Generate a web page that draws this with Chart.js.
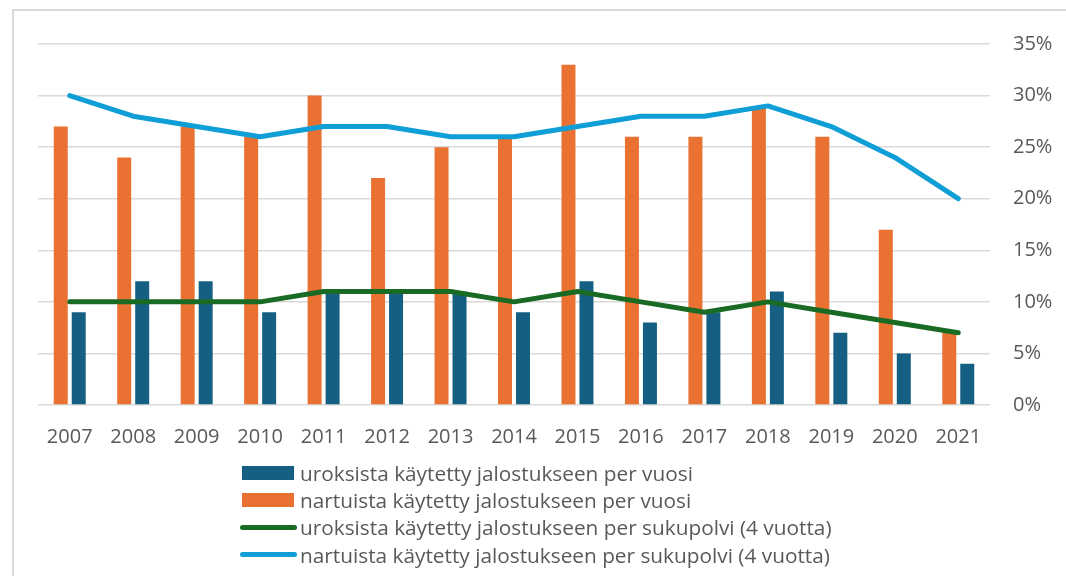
<!DOCTYPE html>
<html lang="fi">
<head>
<meta charset="utf-8">
<title>Jalostukseen käytetyt</title>
<script src="https://cdn.jsdelivr.net/npm/chart.js@4"></script>
<style>
    html, body { margin: 0; padding: 0; background: #ffffff; }
    body { width: 1066px; height: 576px; position: relative; overflow: hidden; font-family: 'Open Sans', sans-serif; }
    .frame { position: absolute; left: 12px; top: 9px; width: 1100px; height: 600px;
             border-top: 2px solid #d9d9d9; border-left: 2px solid #d9d9d9; }
    .chart-box { position: absolute; left: 0; top: 0; width: 1066px; height: 576px; }
    .legend { position: absolute; left: 240px; top: 459px; color: #595959; font-size: 20.8px; }
    .legend-item { height: 27.3px; display: flex; align-items: center; white-space: nowrap; }
    .legend-box { width: 52px; height: 14px; margin-left: 2px; margin-right: 6px; }
    .legend-line { width: 57px; height: 5px; border-radius: 3px; margin-right: 3px; }
</style>
</head>
<body>
<div class="frame"></div>
<div class="chart-box"><canvas id="chart"></canvas></div>
<div class="legend" id="legend"></div>
<script>
// Colours (Office theme)
const COLORS = {
    blue: '#156082',
    orange: '#E97132',
    green: '#196B24',
    cyan: '#0F9ED5',
    grid: '#d9d9d9',
    text: '#595959'
};

// Data
const years = ['2007', '2008', '2009', '2010', '2011', '2012', '2013', '2014',
               '2015', '2016', '2017', '2018', '2019', '2020', '2021'];
const malesPerYear     = [9, 12, 12, 9, 11, 11, 11, 9, 12, 8, 9, 11, 7, 5, 4];
const femalesPerYear   = [27, 24, 27, 26, 30, 22, 25, 26, 33, 26, 26, 29, 26, 17, 7];
const malesPerGen      = [10, 10, 10, 10, 11, 11, 11, 10, 11, 10, 9, 10, 9, 8, 7];
const femalesPerGen    = [30, 28, 27, 26, 27, 27, 26, 26, 27, 28, 28, 29, 27, 24, 20];
const yTicks = [0, 5, 10, 15, 20, 25, 30, 35];

const labels = {
    malesPerYear: 'uroksista käytetty jalostukseen per vuosi',
    femalesPerYear: 'nartuista käytetty jalostukseen per vuosi',
    malesPerGen: 'uroksista käytetty jalostukseen per sukupolvi (4 vuotta)',
    femalesPerGen: 'nartuista käytetty jalostukseen per sukupolvi (4 vuotta)'
};

// Custom legend (Excel style, one item per row)
const legendItems = [
    { text: labels.malesPerYear, color: COLORS.blue, kind: 'box' },
    { text: labels.femalesPerYear, color: COLORS.orange, kind: 'box' },
    { text: labels.malesPerGen, color: COLORS.green, kind: 'line' },
    { text: labels.femalesPerGen, color: COLORS.cyan, kind: 'line' }
];
document.getElementById('legend').innerHTML = legendItems.map(item => `
    <div class="legend-item">
        <span class="legend-${item.kind}" style="background-color: ${item.color}"></span>
        <span>${item.text}</span>
    </div>
`).join('');

const lineStyle = {
    type: 'line',
    borderWidth: 5,
    borderCapStyle: 'round',
    borderJoinStyle: 'round',
    pointRadius: 0,
    tension: 0,
    fill: false,
    order: 0
};

new Chart(document.getElementById('chart'), {
    type: 'bar',
    data: {
        labels: years,
        datasets: [
            {
                label: labels.femalesPerYear,
                data: femalesPerYear,
                backgroundColor: COLORS.orange,
                order: 1
            },
            {
                label: labels.malesPerYear,
                data: malesPerYear,
                backgroundColor: COLORS.blue,
                order: 1
            },
            {
                ...lineStyle,
                label: labels.malesPerGen,
                data: malesPerGen,
                borderColor: COLORS.green,
                backgroundColor: COLORS.green
            },
            {
                ...lineStyle,
                label: labels.femalesPerGen,
                data: femalesPerGen,
                borderColor: COLORS.cyan,
                backgroundColor: COLORS.cyan
            }
        ]
    },
    options: {
        responsive: true,
        maintainAspectRatio: false,
        animation: false,
        datasets: {
            bar: {
                categoryPercentage: 0.567,
                barPercentage: 0.778
            }
        },
        layout: {
            padding: { left: 38, right: 0, top: 44, bottom: 0 }
        },
        plugins: {
            legend: { display: false },
            tooltip: { enabled: false }
        },
        scales: {
            x: {
                grid: { display: false, drawTicks: false },
                border: { display: false },
                afterFit: function(scale) {
                    // plot bottom at y = 405
                    scale.height = 171;
                },
                ticks: {
                    color: COLORS.text,
                    font: { family: 'Open Sans', size: 20 },
                    padding: 20,
                    maxRotation: 0,
                    autoSkip: false
                }
            },
            y: {
                position: 'right',
                min: 0,
                max: 35,
                afterBuildTicks: function(scale) {
                    scale.ticks = yTicks.map(v => ({ value: v }));
                },
                afterFit: function(scale) {
                    scale.width = 76;
                },
                grid: {
                    color: COLORS.grid,
                    lineWidth: 1.5,
                    drawTicks: false
                },
                border: { display: false },
                ticks: {
                    color: COLORS.text,
                    font: { family: 'Open Sans', size: 20 },
                    padding: 23,
                    callback: function(value) {
                        return value + '%';
                    }
                }
            }
        }
    }
});
</script>
</body>
</html>
